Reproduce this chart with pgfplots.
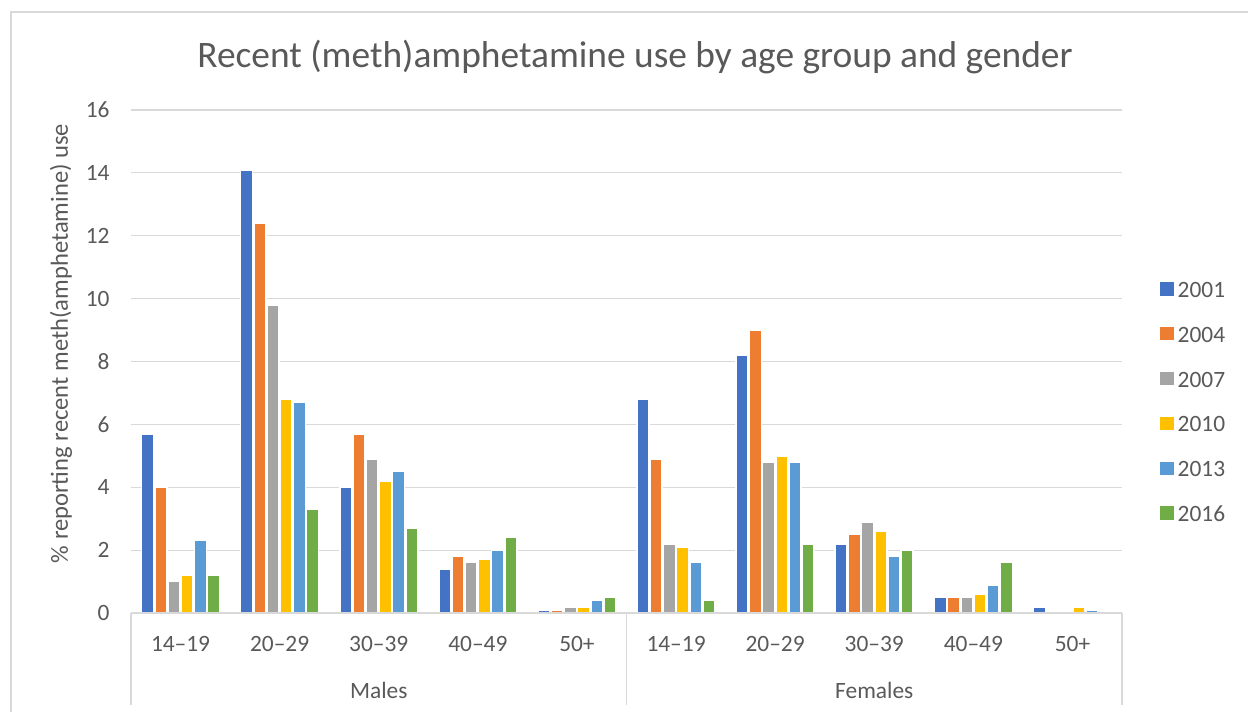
\documentclass[border=0pt]{standalone}
\usepackage{pgfplots}
\pgfplotsset{compat=1.18}
\usepackage{pgfplotstable}
\usepackage{fontspec}
\setmainfont{Carlito}

\definecolor{c01}{HTML}{4472C4}
\definecolor{c04}{HTML}{ED7D31}
\definecolor{c07}{HTML}{A5A5A5}
\definecolor{c10}{HTML}{FFC000}
\definecolor{c13}{HTML}{5B9BD5}
\definecolor{c16}{HTML}{70AD47}
\definecolor{txt}{HTML}{595959}
\definecolor{gridc}{HTML}{D9D9D9}

% columns: category index, then one column per survey year
\pgfplotstableread{
x  y2001 y2004 y2007 y2010 y2013 y2016
0  5.7   4.0   1.0   1.2   2.3   1.2
1  14.1  12.4  9.8   6.8   6.7   3.3
2  4.0   5.7   4.9   4.2   4.5   2.7
3  1.4   1.8   1.6   1.7   2.0   2.4
4  0.1   0.1   0.2   0.2   0.4   0.5
5  6.8   4.9   2.2   2.1   1.6   0.4
6  8.2   9.0   4.8   5.0   4.8   2.2
7  2.2   2.5   2.9   2.6   1.8   2.0
8  0.5   0.5   0.5   0.6   0.9   1.6
9  0.2   0.0   0.0   0.2   0.1   0.0
}\datatable

\newcommand{\lbl}{\fontsize{11.7}{14}\selectfont}

\begin{document}
\begin{tikzpicture}[x=1pt,y=1pt]
\useasboundingbox (0,0) rectangle (624,356);
\begin{scope}
  \clip (0,0) rectangle (624,356);
  \draw[gridc, line width=0.6pt] (5.5,-10) rectangle (640,350);
\end{scope}

\node[text=txt, font=\fontsize{18.7}{22}\selectfont] at (317.5,327.5)
  {Recent (meth)amphetamine use by age group and gender};
\node[text=txt, font=\fontsize{12.3}{14}\selectfont, rotate=90] at (30.5,184.25)
  {\% reporting recent meth(amphetamine) use};

\begin{axis}[
  at={(65.5pt,49.5pt)}, anchor=south west,
  scale only axis,
  width=495.5pt, height=251.5pt,
  ybar=0.6pt, bar width=6pt,
  xmin=-0.5, xmax=9.5,
  ymin=0, ymax=16,
  enlargelimits=false,
  ytick={0,2,...,16},
  xtick={0,...,9},
  xticklabels={14–19,20–29,30–39,40–49,50+,14–19,20–29,30–39,40–49,50+},
  axis line style={draw=none},
  major tick length=0pt,
  ymajorgrids,
  major grid style={gridc, line width=0.6pt},
  tick label style={text=txt, font=\lbl},
  /pgf/number format/assume math mode=true,
  yticklabel style={anchor=east, inner sep=0pt, xshift=-10.5pt},
  xticklabel style={anchor=base, inner sep=0pt, yshift=-19.5pt},
  clip=false,
  legend style={at={(1.038,0.4215)}, anchor=west, draw=none, fill=none,
    inner sep=0pt, font=\lbl, text=txt, row sep=9.9pt,
    nodes={inner sep=2pt, text height=8.5pt, text depth=0pt}},
  legend cell align=left,
  legend image code/.code={\fill[#1, draw=none] (0pt,-3.3pt) rectangle (6.8pt,3.3pt);},
  every axis plot/.append style={draw=white, line width=0.8pt},
]
\addplot[fill=c01] table[x=x, y=y2001] {\datatable};
\addlegendentry{2001}
\addplot[fill=c04] table[x=x, y=y2004] {\datatable};
\addlegendentry{2004}
\addplot[fill=c07] table[x=x, y=y2007] {\datatable};
\addlegendentry{2007}
\addplot[fill=c10] table[x=x, y=y2010] {\datatable};
\addlegendentry{2010}
\addplot[fill=c13] table[x=x, y=y2013] {\datatable};
\addlegendentry{2013}
\addplot[fill=c16] table[x=x, y=y2016] {\datatable};
\addlegendentry{2016}

% category axis line over the bar feet, and group separators
\draw[gridc, line width=0.6pt] (axis cs:-0.5,0) -- (axis cs:9.5,0);
\draw[gridc, line width=0.6pt] (axis cs:-0.5,0) -- ([yshift=-46pt]axis cs:-0.5,0);
\draw[gridc, line width=0.6pt] (axis cs:4.5,0) -- ([yshift=-46pt]axis cs:4.5,0);
\draw[gridc, line width=0.6pt] (axis cs:9.5,0) -- ([yshift=-46pt]axis cs:9.5,0);
\node[text=txt, font=\lbl] at (axis cs:2,0) [yshift=-38.5pt] {Males};
\node[text=txt, font=\lbl] at (axis cs:7,0) [yshift=-38.5pt] {Females};
\end{axis}
\end{tikzpicture}
\end{document}
